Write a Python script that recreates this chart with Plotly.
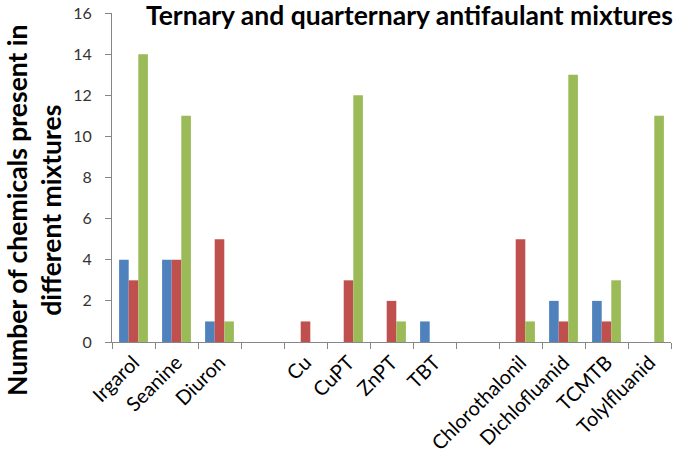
import plotly.graph_objects as go

categories = ["Irgarol", "Seanine", "Diuron", " ", "Cu", "CuPT", "ZnPT", "TBT", "  ",
              "Chlorothalonil", "Dichlofluanid", "TCMTB", "Tolylfluanid"]
series1 = [4, 4, 1, 0, 0, 0, 0, 1, 0, 0, 2, 2, 0]
series2 = [3, 4, 5, 0, 1, 3, 2, 0, 0, 5, 1, 1, 0]
series3 = [14, 11, 1, 0, 0, 12, 1, 0, 0, 1, 13, 3, 11]
series_names = ["Series1", "Series2", "Series3"]
colors = ["#4F81BD", "#C0504D", "#9BBB59"]
title_text = "Ternary and quarternary antifaulant mixtures"
ytitle_text = "Number of chemicals present in<br>different mixtures"

W, H = 685, 456
L, R, T, B = 112, 14, 13, 114

fig = go.Figure()
for name, vals, c in zip(series_names, [series1, series2, series3], colors):
    fig.add_trace(go.Bar(x=categories, y=vals, name=name, marker_color=c,
                         marker_line_width=0))

pw, ph = W - L - R, H - T - B
fig.add_annotation(
    text="<b>" + ytitle_text + "</b>", textangle=-90,
    xref="paper", yref="paper",
    x=(34 - L) / pw, y=(H - B - 210) / ph,
    xanchor="center", yanchor="middle", showarrow=False,
    font=dict(family="Lato", size=26.5, color="black"),
)
fig.add_annotation(
    text="<b>" + title_text + "</b>",
    xref="paper", yref="paper",
    x=(409 - L) / pw, y=(H - B - 15) / ph,
    xanchor="center", yanchor="middle", showarrow=False,
    font=dict(family="Lato", size=26.5, color="black"),
)

fig.update_layout(
    width=W, height=H,
    margin=dict(l=L, r=R, t=T, b=B, autoexpand=False),
    paper_bgcolor="white", plot_bgcolor="white",
    showlegend=False,
    barmode="group", bargap=0.33, bargroupgap=0,
    font=dict(family="Lato", color="black"),
)
fig.update_xaxes(
    type="category", tickson="boundaries", ticks="outside", ticklen=6,
    tickcolor="#868686", showline=True, linecolor="#868686", linewidth=1,
    showgrid=False, tickangle=-45, automargin=False,
    tickfont=dict(family="Lato", size=20, color="black"),
)
fig.update_yaxes(
    range=[0, 16], dtick=2, ticks="outside", ticklen=6, tickcolor="#868686",
    showline=True, linecolor="#868686", linewidth=1, showgrid=False, zeroline=False,
    automargin=False, ticklabelstandoff=10,
    tickfont=dict(family="Lato", size=16, color="#333"),
)
fig.write_html("out.html", config={"displayModeBar": False},
               post_script="document.body.style.margin='0';")
